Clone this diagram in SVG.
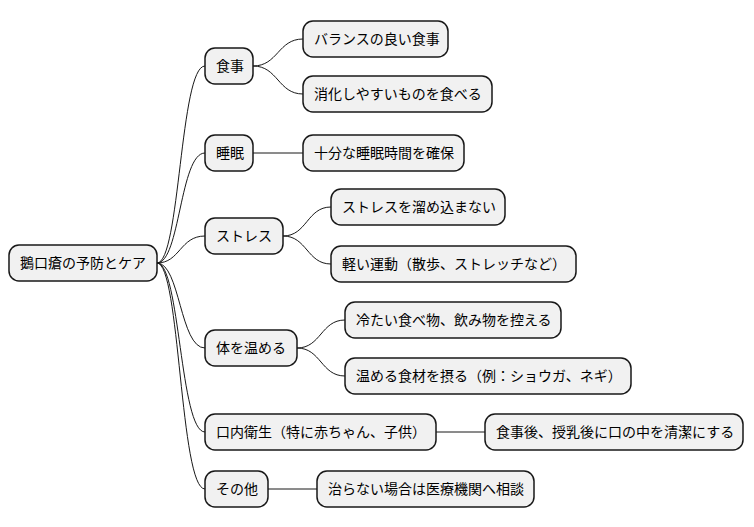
<svg xmlns="http://www.w3.org/2000/svg" width="754" height="527" viewBox="0 0 754 527">
<style>
.n rect{fill:#F1F1F1;stroke:#181818;stroke-width:1.5}
.n text{font-family:"Liberation Sans","Noto Sans CJK JP",sans-serif;font-size:14px;fill:#000;dominant-baseline:central}
.c path{fill:none;stroke:#181818;stroke-width:1}
</style>
<rect width="754" height="527" fill="#fff"/>
<g class="c">
<path d="M157,263 C180,263 180,66 205,66"/>
<path d="M157,263 C180,263 180,153 205,153"/>
<path d="M157,263 C180,263 180,236 205,236"/>
<path d="M157,263 C180,263 180,348 205,348"/>
<path d="M157,263 C180,263 180,432 205,432"/>
<path d="M157,263 C180,263 180,489 205,489"/>
<path d="M253,66 C278,66 278,39 303,39"/>
<path d="M253,66 C278,66 278,94 303,94"/>
<path d="M253,153 L303,153"/>
<path d="M283,236 C307,236 307,207 331,207"/>
<path d="M283,236 C307,236 307,264 331,264"/>
<path d="M297,348 C321,348 321,320 345,320"/>
<path d="M297,348 C321,348 321,376 345,376"/>
<path d="M436,432 L485,432"/>
<path d="M268,489 L317,489"/>
</g>
<g id="root" class="n"><rect x="9" y="245" width="148" height="36" rx="10"/><text x="20" y="263">鵝口瘡の予防とケア</text></g>
<g id="n1" class="n"><rect x="205" y="48" width="48" height="36" rx="10"/><text x="216" y="66">食事</text></g>
<g id="n2" class="n"><rect x="205" y="135" width="48" height="36" rx="10"/><text x="216" y="153">睡眠</text></g>
<g id="n3" class="n"><rect x="205" y="218" width="78" height="36" rx="10"/><text x="216" y="236">ストレス</text></g>
<g id="n4" class="n"><rect x="205" y="330" width="92" height="36" rx="10"/><text x="216" y="348">体を温める</text></g>
<g id="n5" class="n"><rect x="205" y="414" width="231" height="36" rx="10"/><text x="216" y="432">口内衛生（特に赤ちゃん、子供）</text></g>
<g id="n6" class="n"><rect x="205" y="471" width="63" height="36" rx="10"/><text x="216" y="489">その他</text></g>
<g id="l1" class="n"><rect x="303" y="21" width="145" height="36" rx="10"/><text x="314" y="39">バランスの良い食事</text></g>
<g id="l2" class="n"><rect x="303" y="76" width="189" height="36" rx="10"/><text x="314" y="94">消化しやすいものを食べる</text></g>
<g id="l3" class="n"><rect x="303" y="135" width="161" height="36" rx="10"/><text x="314" y="153">十分な睡眠時間を確保</text></g>
<g id="l4" class="n"><rect x="331" y="189" width="174" height="36" rx="10"/><text x="342" y="207">ストレスを溜め込まない</text></g>
<g id="l5" class="n"><rect x="331" y="246" width="245" height="36" rx="10"/><text x="342" y="264">軽い運動（散歩、ストレッチなど）</text></g>
<g id="l6" class="n"><rect x="345" y="302" width="216" height="36" rx="10"/><text x="356" y="320">冷たい食べ物、飲み物を控える</text></g>
<g id="l7" class="n"><rect x="345" y="358" width="286" height="36" rx="10"/><text x="356" y="376">温める食材を摂る（例：ショウガ、ネギ）</text></g>
<g id="l8" class="n"><rect x="485" y="414" width="258" height="36" rx="10"/><text x="496" y="432">食事後、授乳後に口の中を清潔にする</text></g>
<g id="l9" class="n"><rect x="317" y="471" width="217" height="36" rx="10"/><text x="328" y="489">治らない場合は医療機関へ相談</text></g>
</svg>
